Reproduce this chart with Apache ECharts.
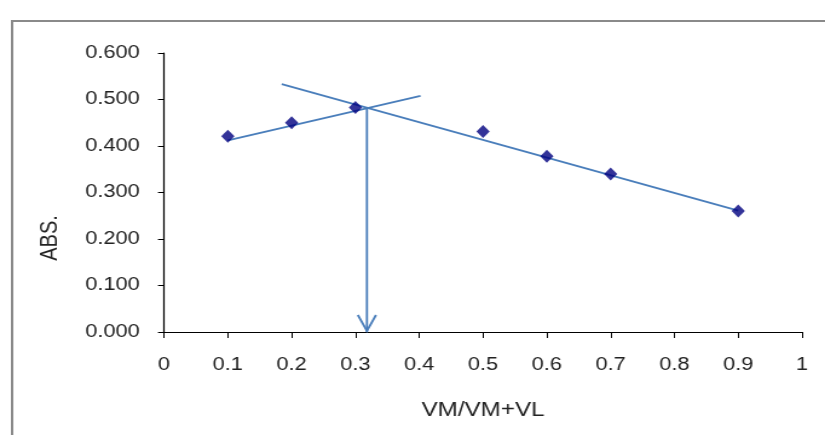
<!DOCTYPE html>
<html>
<head>
<meta charset="utf-8">
<script src="https://cdn.jsdelivr.net/npm/echarts@6/dist/echarts.min.js"></script>
<style>
  html, body { margin: 0; padding: 0; background: #fff; overflow: hidden; }
  /* the plot is laid out on a narrower canvas and widened to fill the page */
  #chart { width: 682px; height: 435px; transform: scaleX(1.2097); transform-origin: 0 0; }
</style>
</head>
<body>
<div id="chart"></div>
<script>
// Mole-ratio measurements: absorbance vs. VM/(VM+VL)
const ratioX = [0.1, 0.2, 0.3, 0.5, 0.6, 0.7, 0.9];
const absY = [0.421, 0.450, 0.483, 0.431, 0.378, 0.340, 0.260];

// Fitted lines through the rising and falling branches
const risingFitX = [0.1, 0.402];
const risingFitY = [0.412, 0.508];
const fallingFitX = [0.1845, 0.9];
const fallingFitY = [0.533, 0.261];

// Drop line from the intersection down to the ratio axis
const crossingX = 0.318;
const crossingY = 0.481;

const yTicks = ['0.000', '0.100', '0.200', '0.300', '0.400', '0.500', '0.600'];
const xTicks = ['0', '0.1', '0.2', '0.3', '0.4', '0.5', '0.6', '0.7', '0.8', '0.9', '1'];

const lineColor = '#4a7ebb';
const markColor = '#000080';
const textColor = '#222';
const textFont = 'Liberation Sans, Arial, sans-serif';

const zip = (xs, ys) => xs.map((x, i) => [x, ys[i]]);

const chart = echarts.init(document.getElementById('chart'), null, { renderer: 'canvas' });

chart.setOption({
  animation: false,
  backgroundColor: '#fff',
  grid: { left: 135.6, right: 19, top: 53, bottom: 103, containLabel: false },
  xAxis: {
    type: 'value', min: 0, max: 1, interval: 0.1,
    name: 'VM/VM+VL', nameLocation: 'middle', nameGap: 68,
    nameTextStyle: { fontFamily: textFont, fontSize: 20, color: textColor },
    axisLine: { onZero: false, lineStyle: { color: '#000', width: 1 } },
    axisTick: { show: true, inside: false, length: 6, lineStyle: { color: '#000' } },
    splitLine: { show: false },
    axisLabel: {
      margin: 24, fontFamily: textFont, fontSize: 18, color: textColor,
      formatter: (v) => xTicks[Math.round(v * 10)]
    }
  },
  yAxis: {
    type: 'value', min: 0, max: 0.6, interval: 0.1,
    axisLine: { show: true, lineStyle: { color: '#000', width: 1.2 } },
    axisTick: { show: true, inside: false, length: 5, lineStyle: { color: '#000' } },
    splitLine: { show: false },
    axisLabel: {
      margin: 20, fontFamily: textFont, fontSize: 18, color: textColor,
      formatter: (v) => yTicks[Math.round(v * 10)]
    }
  },
  graphic: [
    {
      type: 'rect', silent: true, z: -1,
      shape: { x: 10, y: 21, width: 700, height: 430 },
      style: { fill: 'none', stroke: '#8a8a8a', lineWidth: 2 }
    },
    {
      type: 'text', x: 41.5, y: 238, rotation: Math.PI / 2,
      style: {
        text: 'ABS.', fontFamily: textFont, fontSize: 20, fill: textColor,
        align: 'center', verticalAlign: 'middle'
      }
    }
  ],
  series: [
    {
      type: 'line', data: zip(risingFitX, risingFitY), showSymbol: false, symbol: 'none',
      lineStyle: { color: lineColor, width: 1.8 }, z: 2
    },
    {
      type: 'line', data: zip(fallingFitX, fallingFitY), showSymbol: false, symbol: 'none',
      lineStyle: { color: lineColor, width: 1.8 }, z: 2
    },
    {
      type: 'custom', z: 2,
      data: [[crossingX, crossingY, 0]],
      encode: { x: 0, y: [1, 2] },
      renderItem: (params, api) => {
        const top = api.coord([api.value(0), api.value(1)]);
        const tip = api.coord([api.value(0), api.value(2)]);
        const style = { stroke: lineColor, lineWidth: 1.8, fill: 'none' };
        return {
          type: 'group',
          children: [
            { type: 'line', shape: { x1: top[0], y1: top[1], x2: tip[0], y2: tip[1] }, style },
            {
              type: 'polyline',
              shape: { points: [[tip[0] - 7.5, tip[1] - 17], [tip[0], tip[1] - 1], [tip[0] + 7.5, tip[1] - 17]] },
              style
            }
          ]
        };
      }
    },
    {
      type: 'scatter', data: zip(ratioX, absY),
      symbol: 'path://M0,-1L1,0L0,1L-1,0Z', symbolSize: [11, 13],
      itemStyle: { color: markColor }, z: 3
    }
  ]
});
</script>
</body>
</html>
